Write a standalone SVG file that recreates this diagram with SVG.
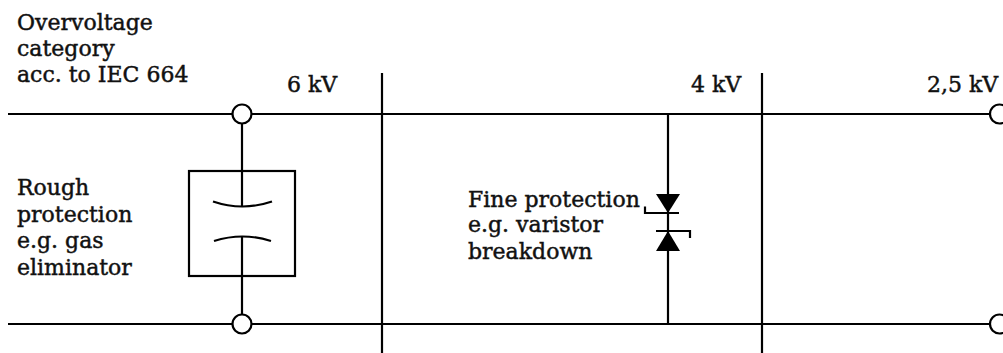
<svg xmlns="http://www.w3.org/2000/svg" width="1003" height="353" viewBox="0 0 1003 353">
<style>
.w{stroke:#000;stroke-width:2.2;fill:none}
.t{font-family:"DejaVu Serif",serif;font-size:22px;fill:#111;stroke:#111;stroke-width:0.45}
.term{stroke:#000;stroke-width:2.2;fill:#fff}
.fill{fill:#000;stroke:none}
</style>
<rect width="1003" height="353" fill="#fff"/>
<g id="connectors">
<line class="w" x1="8" y1="114" x2="990" y2="114"/>
<line class="w" x1="8" y1="324" x2="990" y2="324"/>
<line class="w" x1="382" y1="73" x2="382" y2="353"/>
<line class="w" x1="762" y1="73" x2="762" y2="353"/>
</g>
<g id="labels">
<text class="t" x="17" y="30">Overvoltage</text>
<text class="t" x="17" y="56">category</text>
<text class="t" x="17" y="82">acc. to IEC 664</text>
<text class="t" x="287" y="92">6 kV</text>
<text class="t" x="691" y="92">4 kV</text>
<text class="t" x="927" y="92">2,5 kV</text>
</g>
<g id="gas-eliminator">
<line class="w" x1="242" y1="114" x2="242" y2="206.5"/>
<line class="w" x1="242" y1="236.5" x2="242" y2="324"/>
<rect class="w" x="189" y="171" width="106" height="105"/>
<path class="w" d="M213,201.5 Q242.5,211.5 272,201.5"/>
<path class="w" d="M214,241 Q242.5,232 271,241"/>
<circle class="term" cx="242" cy="114" r="9.5"/>
<circle class="term" cx="242" cy="324" r="9.5"/>
<text class="t" x="17" y="195">Rough</text>
<text class="t" x="17" y="222">protection</text>
<text class="t" x="17" y="248">e.g. gas</text>
<text class="t" x="17" y="275">eliminator</text>
</g>
<g id="varistor">
<line class="w" x1="668" y1="114" x2="668" y2="324"/>
<polygon class="fill" points="656,194 680,194 668,213"/>
<polyline class="w" points="645,206.5 645,213 679,213"/>
<polyline class="w" points="656,231 690,231 690,238"/>
<polygon class="fill" points="668,231 656,251 680,251"/>
<text class="t" x="468" y="207">Fine protection</text>
<text class="t" x="468" y="232">e.g. varistor</text>
<text class="t" x="468" y="259">breakdown</text>
</g>
<g id="terminals-right">
<circle class="term" cx="999.5" cy="114" r="9.5"/>
<circle class="term" cx="999.5" cy="324" r="9.5"/>
</g>
</svg>
